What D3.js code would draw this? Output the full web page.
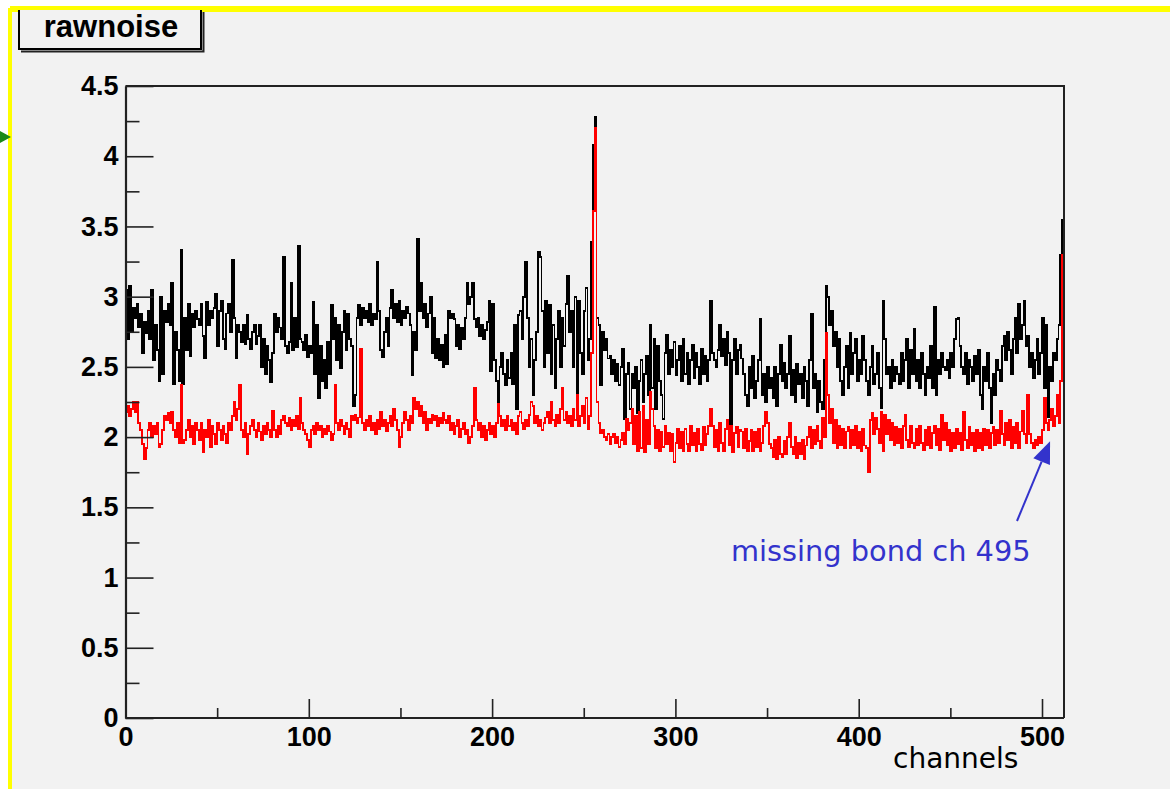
<!DOCTYPE html>
<html><head><meta charset="utf-8">
<script src="https://cdn.jsdelivr.net/npm/d3@7"></script>
<style>body{margin:0;background:#fff}svg{display:block}</style>
</head><body><svg id="c" width="1170" height="789"></svg>
<script>
// ---- data (channel noise, 512 channels) ----
const blackNoise = [
3.05,2.70,3.08,2.75,2.92,2.85,2.95,2.78,2.88,2.60,2.82,2.74,2.90,2.70,3.05,2.55,
2.80,2.62,2.40,3.00,2.45,2.90,2.82,2.95,2.80,3.10,2.38,2.75,2.62,2.40,3.33,2.38,
2.85,2.62,2.95,2.58,2.88,2.78,2.90,2.84,2.80,2.95,2.72,2.56,2.96,2.80,2.90,2.85,
2.92,3.02,2.65,2.90,2.97,2.70,2.63,2.88,2.95,2.75,3.26,2.85,2.56,2.80,2.75,2.68,
2.80,2.66,2.87,2.70,2.63,2.75,2.80,2.66,2.72,2.80,2.50,2.70,2.45,2.65,2.55,2.39,
2.60,2.88,2.75,2.85,2.78,2.70,3.28,2.65,2.60,2.68,3.10,2.62,2.85,2.64,3.36,2.70,
2.68,2.62,2.73,2.57,2.65,2.60,2.96,2.45,2.80,2.28,2.65,2.40,2.55,2.35,2.68,2.45,
2.94,2.70,2.85,2.55,2.80,2.49,2.75,2.90,2.62,2.88,2.70,2.65,2.22,2.30,2.85,2.94,
2.80,2.92,2.85,2.90,2.82,2.95,2.80,2.88,2.84,3.25,2.90,2.62,2.57,2.75,2.85,2.65,
2.92,3.05,2.85,2.95,2.82,2.97,2.80,2.90,2.85,2.93,2.88,2.80,2.44,2.75,2.62,3.41,
2.90,3.10,2.85,2.95,2.78,2.88,3.00,2.60,2.85,2.56,2.70,2.55,2.66,2.50,2.73,2.52,
2.90,2.85,2.88,2.84,2.65,2.80,2.63,2.78,2.70,2.85,3.10,2.95,3.00,3.10,2.84,2.78,
2.85,2.72,2.80,2.70,2.76,2.82,2.97,2.47,2.95,2.55,2.40,2.22,2.50,2.60,2.45,2.37,
2.55,2.42,2.60,2.38,2.80,2.20,2.87,2.90,2.70,3.00,3.25,2.85,2.50,2.70,2.30,2.55,
2.75,3.32,3.28,2.90,2.50,2.97,2.60,2.94,2.45,2.80,2.35,2.70,2.90,2.50,2.85,2.65,
2.95,3.15,2.75,2.90,2.50,3.00,2.18,2.97,2.60,2.45,2.90,3.06,2.55,2.70,3.39,4.08,
4.28,2.85,2.80,2.37,2.75,2.62,2.70,2.56,2.58,2.45,2.55,2.40,2.52,2.37,2.50,2.63,
2.13,2.45,2.53,2.20,2.45,2.35,2.50,2.17,2.40,2.55,2.25,2.45,2.58,2.30,2.80,2.35,
2.70,2.20,2.65,2.40,2.30,2.13,2.60,2.73,2.45,2.62,2.50,2.68,2.44,2.55,2.65,2.40,
2.70,2.45,2.60,2.38,2.55,2.66,2.42,2.60,2.50,2.38,2.63,2.45,2.58,2.40,2.55,2.97,
2.60,2.55,2.50,2.62,2.80,2.58,2.70,2.51,2.75,2.60,2.04,2.55,2.70,2.45,2.62,2.66,
2.56,2.45,2.30,2.22,2.50,2.35,2.58,2.28,2.40,2.55,2.84,2.30,2.45,2.25,2.50,2.35,
2.42,2.28,2.50,2.22,2.45,2.66,2.40,2.53,2.35,2.45,2.72,2.30,2.48,2.25,2.52,2.38,
2.45,2.28,2.50,2.40,2.22,2.55,2.88,2.35,2.45,2.18,2.40,2.25,2.20,2.55,3.08,3.00,
2.80,2.90,2.65,2.75,2.50,2.70,2.40,2.30,2.50,2.65,2.35,2.74,2.45,2.60,2.70,2.40,
2.55,2.45,2.72,2.55,2.40,2.30,2.50,2.65,2.38,2.45,2.60,2.35,2.21,2.97,2.70,2.45,
2.50,2.35,2.55,2.40,2.50,2.45,2.38,2.60,2.40,2.55,2.70,2.35,2.62,2.45,2.77,2.40,
2.55,2.35,2.60,2.45,2.30,2.50,2.42,2.65,2.35,2.93,2.30,2.55,2.45,2.60,2.50,2.48,
2.55,2.42,2.60,2.50,2.70,2.84,2.85,2.65,2.50,2.45,2.60,2.38,2.55,2.50,2.40,2.58,
2.45,2.62,2.30,2.20,2.50,2.40,2.60,2.35,2.10,2.45,2.30,2.55,2.48,2.40,2.65,2.72,
2.55,2.75,2.62,2.45,2.70,2.85,2.60,2.95,2.70,2.80,2.97,2.65,2.72,2.50,2.60,2.42,
2.55,2.70,2.45,2.60,2.85,2.35,2.80,2.14,2.50,2.40,2.60,2.55,2.70,2.80,3.30,3.55
];
const redNoise = [
2.18,2.22,2.15,2.20,2.25,2.18,2.25,2.10,2.05,1.95,1.84,1.92,2.05,2.10,2.00,2.08,
2.02,2.10,1.93,1.95,2.05,2.15,2.12,2.17,2.10,2.18,2.05,2.00,2.10,1.96,2.37,1.96,
1.98,2.05,2.12,2.00,2.08,1.95,2.10,2.05,1.98,2.10,1.89,2.05,2.00,2.12,1.93,2.08,
2.02,1.95,2.10,2.05,1.98,2.08,2.02,1.96,2.10,2.05,2.15,2.25,2.12,2.20,2.37,2.05,
2.00,2.10,1.88,2.02,2.08,2.12,2.05,2.00,2.10,2.04,1.98,2.08,2.02,2.10,2.05,2.00,
2.19,2.05,2.00,2.08,2.02,2.12,2.15,2.10,2.08,2.14,2.05,2.12,2.08,2.15,2.06,2.28,
2.10,2.05,2.02,1.98,1.93,2.05,2.08,2.02,2.10,2.05,2.08,2.00,2.06,2.02,2.08,2.04,
1.98,2.02,2.37,2.10,2.05,2.12,2.08,2.02,2.10,2.06,2.00,2.15,2.12,2.16,2.10,2.14,
2.63,2.10,2.05,2.12,2.08,2.15,2.05,2.10,2.02,2.12,2.06,2.18,2.08,2.12,2.04,2.10,
2.15,2.08,2.20,2.12,2.05,1.93,2.00,2.10,2.18,2.12,2.05,2.15,2.10,2.28,2.20,2.25,
2.15,2.22,2.10,2.18,2.05,2.13,2.10,2.16,2.12,2.15,2.08,2.14,2.10,2.17,2.12,2.10,
2.15,2.05,2.10,2.02,2.08,2.12,2.00,2.06,2.10,2.02,2.05,1.96,2.00,2.08,2.35,2.12,
2.05,2.10,2.00,2.08,1.98,2.05,2.10,2.02,2.08,2.00,2.10,2.24,2.15,2.08,2.12,2.05,
2.15,2.08,2.12,2.05,2.10,2.02,2.15,2.18,2.10,2.06,2.12,2.08,2.16,2.25,2.22,2.10,
2.15,2.08,2.12,2.05,2.10,2.14,2.18,2.10,2.25,2.12,2.08,2.16,2.10,2.20,2.35,2.12,
2.18,2.10,2.15,2.08,2.20,2.12,2.30,2.08,2.15,2.22,2.10,2.28,2.06,2.15,2.60,3.61,
4.20,2.25,2.10,2.03,2.05,2.00,1.98,2.02,1.95,2.00,2.02,1.96,2.00,1.93,1.98,2.03,
1.95,2.13,2.05,2.10,2.20,1.95,2.15,1.90,2.18,1.92,2.22,1.89,2.12,1.95,2.32,2.20,
2.08,1.92,2.05,1.90,2.04,1.93,2.08,1.95,2.03,1.90,2.02,1.82,1.96,2.06,1.92,2.04,
1.90,2.06,1.95,1.90,2.08,1.94,2.03,1.90,2.06,1.95,1.91,2.07,1.94,2.02,2.08,2.20,
2.08,1.93,2.05,1.90,2.10,1.96,1.90,2.06,2.12,1.94,2.08,1.89,2.03,2.07,1.93,2.05,
2.04,1.92,2.06,1.90,1.97,2.05,1.90,2.04,1.93,2.06,1.90,1.96,2.08,2.18,2.10,1.95,
1.92,1.86,1.98,1.84,2.00,1.88,1.86,1.97,1.88,2.00,2.10,1.93,1.88,2.00,1.85,1.96,
1.88,1.98,1.84,1.94,2.00,2.07,1.92,2.05,1.95,2.08,1.97,1.92,2.14,2.00,2.74,2.30,
2.10,2.20,1.96,2.12,1.92,2.08,1.94,2.06,1.92,2.04,2.07,1.92,2.05,1.94,2.08,1.92,
2.04,1.90,2.06,1.94,1.92,1.75,2.12,2.17,2.02,2.14,2.06,1.96,2.18,1.90,2.16,2.02,
2.12,1.98,2.10,1.94,2.07,1.96,2.06,1.92,2.08,2.16,1.98,1.93,2.08,1.96,1.92,2.06,
1.94,2.08,1.96,1.91,2.05,1.94,2.07,1.92,2.03,2.08,1.94,2.06,1.91,2.16,1.98,2.10,
1.94,2.05,1.90,2.03,1.92,2.06,1.95,2.03,1.91,2.18,1.98,1.92,2.07,1.94,2.03,1.90,
2.05,1.92,2.03,1.91,2.06,1.94,2.05,1.92,2.03,2.07,1.94,2.05,1.96,2.19,2.02,1.94,
2.10,1.98,2.12,1.92,2.07,1.96,2.10,1.92,2.04,2.19,2.02,1.96,2.30,2.02,1.96,1.92,
1.98,1.94,2.00,1.96,2.05,2.28,2.10,2.05,2.12,2.20,2.08,2.15,2.30,2.10,2.40,3.30
];
const yMajorTicks = [0,0.5,1,1.5,2,2.5,3,3.5,4,4.5];
const yMinorTicks = [0.25,0.75,1.25,1.75,2.25,2.75,3.25,3.75,4.25];
const xMajorTicks = [0,100,200,300,400,500];
const xMinorTicks = [50,150,250,350,450];
const titleText = "rawnoise";
const xTitle = "channels";
const noteText = "missing bond ch 495";
const nChannels = 512;

// ---- drawing ----
const svg = d3.select('#c');
const W = 1170, H = 789;
svg.append('rect').attr('width',W).attr('height',H).attr('fill','#ffffff');
svg.append('rect').attr('x',10).attr('y',10).attr('width',W-10).attr('height',H-10).attr('fill','#f2f2f2');
svg.append('path').attr('d','M10,'+H+' V10 H'+W).attr('fill','none')
  .attr('stroke','#ffff00').attr('stroke-width',4);
// green arrow head at left edge
svg.append('path').attr('d','M0,131 L11,137 L0,143 Z').attr('fill','#1a8a1a');

const x = d3.scaleLinear().domain([0,nChannels]).range([125.5,1064]);
const y = d3.scaleLinear().domain([0,4.5]).range([718,86]);

const line = d3.line().x(d=>x(d[0])).y(d=>y(d[1])).curve(d3.curveStepAfter);
function pts(arr){ const p = arr.map((v,i)=>[i,v]); p.push([arr.length, arr[arr.length-1]]); return p; }

svg.append('path').datum(pts(blackNoise)).attr('d',line).attr('fill','none')
  .attr('stroke','#000').attr('stroke-width',1.8).attr('shape-rendering','crispEdges');
svg.append('path').datum(pts(redNoise)).attr('d',line).attr('fill','none')
  .attr('stroke','#ff0000').attr('stroke-width',1.8).attr('shape-rendering','crispEdges');

// frame top/right
svg.append('path').attr('d',`M${x(0)},${y(4.5)} H${x(nChannels)} V${y(0)}`)
  .attr('fill','none').attr('stroke','#222').attr('stroke-width',2);

const fontTick = "'Liberation Sans', Arial, sans-serif";
function styleAxis(g){
  g.select('.domain').attr('stroke','#222').attr('stroke-width',2.2);
  g.selectAll('.tick line').attr('stroke','#222').attr('stroke-width',1.6);
  g.selectAll('.tick text').attr('fill','#000').attr('font-family',fontTick)
    .attr('font-weight','bold').attr('font-size',27);
}
const yAx = svg.append('g').attr('transform',`translate(${x(0)},0)`)
  .call(d3.axisLeft(y).tickValues(yMajorTicks).tickSize(-28).tickSizeOuter(0).tickPadding(7)
        .tickFormat(d=>String(d)));
styleAxis(yAx);
const yAxMin = svg.append('g').attr('transform',`translate(${x(0)},0)`)
  .call(d3.axisLeft(y).tickValues(yMinorTicks).tickSize(-14).tickSizeOuter(0).tickFormat(''));
styleAxis(yAxMin); yAxMin.select('.domain').remove();

const xAx = svg.append('g').attr('transform',`translate(0,${y(0)})`)
  .call(d3.axisBottom(x).tickValues(xMajorTicks).tickSize(-19).tickSizeOuter(0).tickPadding(9)
        .tickFormat(d=>String(d)));
styleAxis(xAx);
xAx.select('.domain').attr('d',`M${x(0)},0H${x(nChannels)}`);
const xAxMin = svg.append('g').attr('transform',`translate(0,${y(0)})`)
  .call(d3.axisBottom(x).tickValues(xMinorTicks).tickSize(-10).tickSizeOuter(0).tickFormat(''));
styleAxis(xAxMin); xAxMin.select('.domain').remove();

// x title
svg.append('text').attr('x',893).attr('y',768).text(xTitle)
  .attr('font-family',"'DejaVu Sans', Verdana, sans-serif").attr('font-size',28).attr('fill','#000');

// title box
svg.append('path').attr('d','M21,51.5 H203.5 V12').attr('fill','none').attr('stroke','#222').attr('stroke-width',2);
svg.append('rect').attr('x',19).attr('y',9).attr('width',182).attr('height',40)
  .attr('fill','#f2f2f2').attr('stroke','#000').attr('stroke-width',2);
svg.append('path').attr('d','M10,8 H'+W).attr('stroke','#ffff00').attr('stroke-width',4);
svg.append('text').attr('x',111).attr('y',37).attr('text-anchor','middle').text(titleText)
  .attr('font-family',fontTick).attr('font-weight','bold').attr('font-size',31).attr('fill','#000');

// annotation
const blue = '#3333cc';
svg.append('text').attr('x',731).attr('y',561).text(noteText)
  .attr('font-family',"'DejaVu Sans', Verdana, sans-serif").attr('font-size',28.8).attr('fill',blue);
const tip = [x(504.4), y(1.97)], tail = [1017, 521];
const dx = tip[0]-tail[0], dy = tip[1]-tail[1], L = Math.hypot(dx,dy), ux = dx/L, uy = dy/L;
const hl = 22, hw = 9;
const bx = tip[0]-hl*ux, by = tip[1]-hl*uy;
svg.append('line').attr('x1',tail[0]).attr('y1',tail[1]).attr('x2',bx).attr('y2',by)
  .attr('stroke',blue).attr('stroke-width',2);
svg.append('path').attr('d',`M${tip[0]},${tip[1]} L${bx-hw*uy},${by+hw*ux} L${bx+hw*uy},${by-hw*ux} Z`)
  .attr('fill',blue);
</script></body></html>
